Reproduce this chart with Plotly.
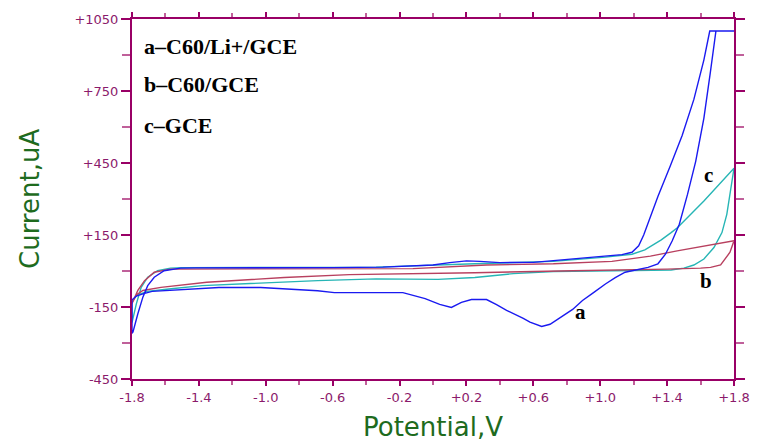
import plotly.graph_objects as go

# ---- data ----
a_v = [-1.8, -1.794, -1.765, -1.735, -1.706, -1.667, -1.608, -1.51, -1.42, -1.0, -0.6, -0.3, 0.0, 0.1,
       0.2, 0.28, 0.4, 0.6, 0.72, 0.835, 0.9, 1.03, 1.13, 1.19, 1.23, 1.26, 1.3, 1.345, 1.42, 1.49,
       1.56, 1.62, 1.655, 1.8,
       1.692, 1.659, 1.62, 1.571, 1.522, 1.473, 1.43, 1.39, 1.345, 1.286, 1.2, 1.149, 1.09, 1.031,
       0.96, 0.894, 0.835, 0.76, 0.7, 0.65, 0.58, 0.54, 0.44, 0.38, 0.32, 0.23, 0.17, 0.11, 0.04,
       -0.047, -0.18, -0.34, -0.59, -0.69, -1.03, -1.28, -1.48, -1.627, -1.68, -1.735, -1.774,
       -1.8, -1.8]
a_i = [-260, -254, -178, -109, -61, -26, 1, 12, 13, 12, 14, 16, 25, 35,
       42, 40, 35, 36, 43, 51, 55, 62, 68, 78, 105, 150, 225, 310, 440, 565,
       715, 880, 1000, 1000,
       1000, 830, 637, 457, 319, 195, 125, 70, 30, 15, 3, -5, -28, -54,
       -90, -123, -160, -196, -222, -231, -213, -197, -164, -140, -119, -119, -131, -152, -139,
       -115, -90, -90, -90, -82, -69, -69, -77, -81, -85, -95, -105,
       -120, -260]

b_v = [-1.8, -1.765, -1.725, -1.667, -1.57, -1.4, -1.0, -0.5, -0.12, 0.32, 0.72, 1.07, 1.3,
       1.46, 1.65, 1.8,
       1.776, 1.72, 1.66, 1.6, 1.4, 1.0, 0.835, 0.25, -0.34, -0.5, -0.89, -1.353, -1.627,
       -1.735, -1.774, -1.8]
b_i = [-135, -81, -40, -5, 8, 8, 8, 9, 10, 25, 30, 40, 62,
       84, 106, 126,
       78, 25, 15, 12, 8, 4, 1, -7, -11, -15, -27, -47, -68,
       -81, -100, -135]

c_v = [-1.8, -1.774, -1.745, -1.706, -1.647, -1.57, -1.5, -1.0, -0.34, 0.25, 0.72, 1.03, 1.19,
       1.267, 1.365, 1.424, 1.463, 1.54, 1.62, 1.8,
       1.78, 1.757, 1.728, 1.68, 1.62, 1.56, 1.5, 1.424, 1.2, 0.72, 0.48, 0.25, 0.03, -0.34,
       -0.69, -1.09, -1.38, -1.58, -1.71, -1.774, -1.8, -1.8]
c_i = [-215, -137, -68, -26, 1, 12, 14, 14, 16, 30, 40, 58, 70,
       88, 130, 160, 181, 235, 292, 428,
       347, 236, 160, 98, 50, 25, 12, 4, 2, -2, -11, -27, -35, -33,
       -40, -52, -61, -75, -85, -102, -130, -215]

legend_lines = ["a\u2013C60/Li+/GCE", "b\u2013C60/GCE", "c\u2013GCE"]
legend_y = [934, 777, 607]
curve_labels = ["a", "b", "c"]
curve_label_v = [0.88, 1.635, 1.647]
curve_label_i = [-172, -40, 399]

x_ticks = [-1.8, -1.4, -1.0, -0.6, -0.2, 0.2, 0.6, 1.0, 1.4, 1.8]
x_ticktext = ["-1.8", "-1.4", "-1.0", "-0.6", "-0.2", "+0.2", "+0.6", "+1.0", "+1.4", "+1.8"]
y_ticks = [-450, -150, 150, 450, 750, 1050]
y_ticktext = ["-450", "-150", "+150", "+450", "+750", "+1050"]

AX = "#990066"

fig = go.Figure()
fig.add_trace(go.Scatter(x=c_v, y=c_i, mode="lines", line=dict(color="#26B5B5", width=1.4),
                         showlegend=False, hoverinfo="skip"))
fig.add_trace(go.Scatter(x=b_v, y=b_i, mode="lines", line=dict(color="#B8405F", width=1.4),
                         showlegend=False, hoverinfo="skip"))
fig.add_trace(go.Scatter(x=a_v, y=a_i, mode="lines", line=dict(color="#1A1AF0", width=1.4),
                         showlegend=False, hoverinfo="skip"))

for txt, yy in zip(legend_lines, legend_y):
    fig.add_annotation(x=-1.8, y=yy, xref="x", yref="y", text=txt, showarrow=False,
                       xanchor="left", yanchor="middle", xshift=10,
                       font=dict(family="Liberation Serif", size=22, color="black", weight="bold"))
for txt, vv, ii in zip(curve_labels, curve_label_v, curve_label_i):
    fig.add_annotation(x=vv, y=ii, xref="x", yref="y", text=txt, showarrow=False,
                       xanchor="center", yanchor="middle",
                       font=dict(family="Liberation Serif", size=21, color="black", weight="bold"))

fig.add_annotation(x=0, y=0.5, xref="paper", yref="paper", text="Current,uA", textangle=-90,
                   showarrow=False, xanchor="center", yanchor="middle", xshift=-102,
                   font=dict(family="DejaVu Sans", size=26, color="#1E6B1E"))
fig.add_annotation(x=0.5, y=0, xref="paper", yref="paper", text="Potential,V",
                   showarrow=False, xanchor="center", yanchor="middle", yshift=-48,
                   font=dict(family="DejaVu Sans", size=26, color="#1E6B1E"))

fig.update_layout(
    width=762, height=445,
    margin=dict(l=132, r=18, t=17, b=66),
    paper_bgcolor="white", plot_bgcolor="white",
    xaxis=dict(range=[-1.8, 1.8], tickvals=x_ticks, ticktext=x_ticktext,
               ticks="outside", ticklen=5, tickwidth=1.5, tickcolor=AX,
               minor=dict(tick0=-1.8, dtick=0.2, ticks="outside", ticklen=4, tickcolor="#C0609A", tickwidth=1.5),
               showline=True, linecolor=AX, linewidth=2, mirror="allticks",
               showgrid=False, zeroline=False,
               tickfont=dict(family="DejaVu Sans", size=13, color="#8B1A6B")),
    yaxis=dict(range=[-450, 1050], tickvals=y_ticks, ticktext=y_ticktext,
               ticks="outside", ticklen=9, tickwidth=1.5, tickcolor=AX,
               minor=dict(tick0=-450, dtick=150, ticks="outside", ticklen=8, tickcolor="#C0609A", tickwidth=1.5),
               showline=True, linecolor=AX, linewidth=2, mirror="allticks",
               showgrid=False, zeroline=False,
               tickfont=dict(family="DejaVu Sans", size=13, color="#8B1A6B")),
)

fig.write_html("out.html")
